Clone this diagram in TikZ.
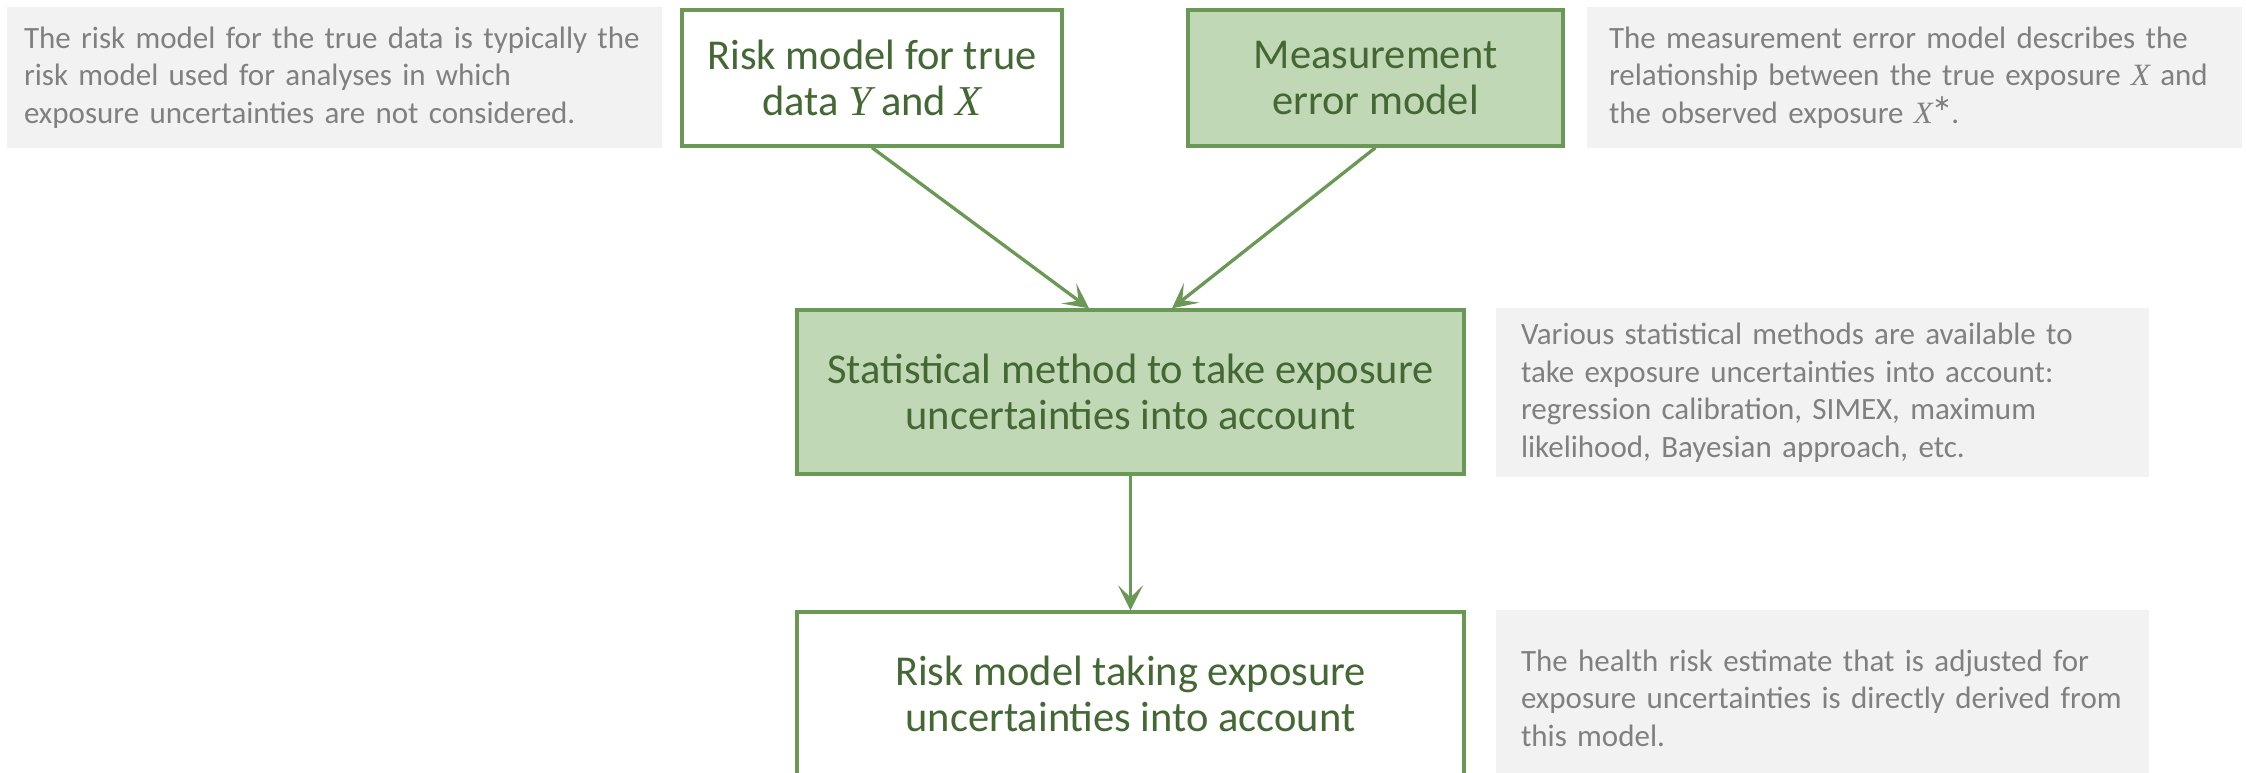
\documentclass[tikz,border=0pt]{standalone}
\usepackage{fontspec}
\setmainfont{Carlito}
\newfontfamily\varserif{Liberation Serif}
\newfontfamily\symfont{DejaVu Sans}
\newcommand{\var}[1]{{\varserif\itshape #1}}
\newcommand{\starsup}{\raisebox{0.42em}{\fontsize{22}{22}\selectfont\symfont\char"2217}}
\usetikzlibrary{arrows.meta}
\definecolor{boxgreen}{RGB}{106,153,85}
\definecolor{fillgreen}{RGB}{192,216,181}
\definecolor{textgreen}{RGB}{67,104,52}
\definecolor{notegray}{RGB}{242,242,242}
\definecolor{notetext}{RGB}{128,128,128}
\tikzset{
  flowbox/.style={draw=boxgreen, line width=3.3pt, text=textgreen, align=center,
    font=\fontsize{42.5}{46}\selectfont, inner sep=0pt},
  note/.style={fill=notegray, text=notetext, align=left,
    font=\fontsize{31}{37.5}\selectfont, inner ysep=0pt},
  flow/.style={draw=boxgreen, line width=3.3pt,
    -{Stealth[length=25pt,width=25pt,inset=12pt]}}
}
\begin{document}
\begin{tikzpicture}[x=1pt,y=-1pt]
  \useasboundingbox (0,0) rectangle (2246,773);

  % explanatory notes
  \node[note, inner xsep=17pt, text width=621pt, minimum height=141pt] (n1) at (334.5,77.5)
    {The risk model for the true data is typically the\\
     risk model used for analyses in which\\
     exposure uncertainties are not considered.};
  \node[note, inner xsep=22pt, text width=611pt, minimum height=141pt] (n2) at (1914.5,77.5)
    {The measurement error model describes the\\
     relationship between the true exposure \var{X} and\\
     the observed exposure \var{X}\starsup.};
  \node[note, inner xsep=25pt, text width=603pt, minimum height=169pt] (n3) at (1822.5,392.5)
    {Various statistical methods are available to\\
     take exposure uncertainties into account:\\
     regression calibration, SIMEX, maximum\\
     likelihood, Bayesian approach, etc.};
  \node[note, inner xsep=25pt, text width=603pt, minimum height=176pt] (n4) at (1822.5,698)
    {The health risk estimate that is adjusted for\\
     exposure uncertainties is directly derived from\\
     this model.};

  % flow boxes
  \node[flowbox, fill=white, minimum width=380pt, minimum height=136pt] (b1) at (872,78)
    {Risk model for true\\data \var{Y} and \var{X}};
  \node[flowbox, fill=fillgreen, minimum width=375pt, minimum height=136pt] (b2) at (1375.5,78)
    {Measurement\\error model};
  \node[flowbox, fill=fillgreen, minimum width=667pt, minimum height=164pt] (b3) at (1130.5,392)
    {Statistical method to take exposure\\uncertainties into account};
  \node[flowbox, fill=white, minimum width=667pt, minimum height=164pt] (b4) at (1130.5,694)
    {Risk model taking exposure\\uncertainties into account};

  % connectors
  \draw[flow] (b1.south) -- ([xshift=-41.5pt]b3.north);
  \draw[flow] (b2.south) -- ([xshift=41.5pt]b3.north);
  \draw[flow] (b3.south) -- (b4.north);
\end{tikzpicture}
\end{document}
